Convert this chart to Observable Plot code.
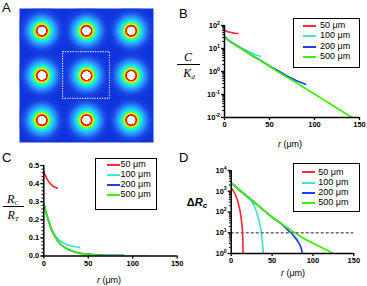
<!DOCTYPE html>
<html><head><meta charset="utf-8">
<script src="https://cdn.jsdelivr.net/npm/d3@7"></script>
<script src="https://cdn.jsdelivr.net/npm/@observablehq/plot@0.6"></script>
<style>
body{margin:0;background:#fff;}
#fig{position:relative;width:367px;height:286px;overflow:hidden;font-family:Arial,"Liberation Sans",sans-serif;}
#fig > svg{position:absolute;}
.t{position:absolute;line-height:1;white-space:nowrap;color:#000;}
.lg{position:absolute;border:1.3px solid #000;box-sizing:border-box;background:#fff;}
.row{position:absolute;font-size:9px;line-height:1;white-space:nowrap;}
.sw{position:absolute;height:2px;}
</style>
</head><body><div id="fig"></div>
<script>
// ---------- data ----------
const seriesNames = ["50 μm", "100 μm", "200 μm", "500 μm"];
const seriesColors = ["#ff2a3a", "#3fe3cf", "#1f3fe6", "#3cf000"];

// Panel A: 3x3 lattice of cells
const cellX = [0.5, 1.5, 2.5];
const cellY = [0.5, 1.5, 2.5];
const boxA = [{x1: 0.975, x2: 2.025, y1: 0.975, y2: 2.025}];

// Panel B: C/Kd vs r
const bR50 = [0, 3, 6, 9, 12, 15];
const bV50 = [62, 55, 51, 48, 46, 45];
const bR100 = [0, 5, 10, 15, 20, 25, 30, 35, 40];
const bV100 = [31.6, 22.4, 16.6, 12.6, 10, 7.9, 6.3, 5.2, 4.6];
const bR200 = [0, 5, 10, 15, 20, 30, 40, 50, 60, 70, 80, 90];
const bV200 = [31.6, 21.9, 16.2, 12.3, 9.3, 5.1, 3.0, 1.75, 1.05, 0.62, 0.4, 0.28];
const bR500 = [0, 5, 10, 15, 20, 30, 40, 50, 60, 70, 80, 90, 100, 110, 120, 130, 142];
const bV500 = [31.6, 21.9, 16.2, 12.3, 9.3, 5.1, 3.0, 1.7, 0.95, 0.55, 0.32, 0.18, 0.105, 0.06, 0.034, 0.019, 0.01];

// Panel C: Rc/Rt vs r
const cR50 = [0, 3, 6, 9, 12, 15];
const cV50 = [0.465, 0.432, 0.408, 0.392, 0.381, 0.375];
const cR100 = [0, 2, 4, 6, 8, 10, 13, 16, 20, 25, 30, 35, 40];
const cV100 = [0.29, 0.25, 0.215, 0.185, 0.157, 0.134, 0.11, 0.093, 0.078, 0.065, 0.057, 0.051, 0.048];
const cR200 = [0, 2, 4, 6, 8, 10, 13, 16, 20, 25, 30, 40, 50, 60, 70, 80, 90];
const cV200 = [0.29, 0.25, 0.215, 0.185, 0.155, 0.13, 0.105, 0.082, 0.06, 0.043, 0.03, 0.016, 0.01, 0.006, 0.004, 0.0035, 0.003];
const cR500 = [0, 2, 4, 6, 8, 10, 13, 16, 20, 25, 30, 40, 50, 60, 80, 100, 118];
const cV500 = [0.29, 0.25, 0.215, 0.185, 0.155, 0.13, 0.105, 0.082, 0.06, 0.043, 0.03, 0.016, 0.009, 0.005, 0.002, 0.001, 0.0005];

// Panel D: delta Rc vs r
const dR50 = [0, 2, 5, 8, 10, 11.5, 12.5, 13.4, 14, 14.3, 14.5];
const dV50 = [1450, 1120, 700, 320, 160, 80, 40, 18.6, 8, 3.2, 1];
const dR100 = [0, 10, 20, 25, 28, 31, 34, 36.5, 38, 39, 39.3];
const dV100 = [2500, 1150, 540, 316, 200, 100, 40, 12.6, 4, 1.6, 1];
const dR200 = [0, 10, 20, 30, 40, 50, 60, 65, 70, 73, 78, 82, 85, 86.5, 87];
const dV200 = [2500, 1150, 540, 257, 120, 56, 30, 20, 12.6, 10, 6, 3.6, 2.1, 1.3, 1];
const dR500 = [0, 10, 20, 30, 40, 50, 60, 70, 80, 90, 100, 110, 125];
const dV500 = [2500, 1150, 540, 257, 120, 56, 30, 16, 8.7, 5, 3.1, 2, 1];
const dThreshold = [10];

// Tick labels
const xTicks = [0, 50, 100, 150];
const bYTicks = [0.01, 0.1, 1, 10, 100];
const cYTicks = [0, 0.1, 0.2, 0.3, 0.4, 0.5];
const dYTicks = [1, 10, 100, 1000, 10000];

// ---------- helpers ----------
const fig = document.getElementById("fig");
const FONT = "Arial, 'Liberation Sans', sans-serif";
function rows(rs, vs, s) { return rs.map((r, i) => ({r, v: vs[i], s})); }
function logMinor(lo, hi) {
  const out = [];
  for (let e = Math.log10(lo); e < Math.log10(hi); e++)
    for (let k = 2; k <= 9; k++) out.push(k * Math.pow(10, e));
  return out;
}
function logFmt(d) { return "10^" + Math.round(Math.log10(d)); }
function fixSup(svg) {
  svg.querySelectorAll("text").forEach(t => {
    const m = /^10\^(-?\d+)$/.exec(t.textContent);
    if (m) {
      t.textContent = "10";
      const ts = document.createElementNS("http://www.w3.org/2000/svg", "tspan");
      ts.setAttribute("dy", "-3.2");
      ts.setAttribute("font-size", "5.2");
      ts.textContent = m[1];
      t.appendChild(ts);
    }
  });
}
function place(svg, left, top) {
  svg.style.left = left + "px"; svg.style.top = top + "px";
  fig.appendChild(svg);
}
function text(html, left, top, css) {
  const d = document.createElement("div");
  d.className = "t"; d.innerHTML = html;
  d.style.left = left + "px"; d.style.top = top + "px";
  Object.assign(d.style, css || {});
  fig.appendChild(d);
  return d;
}
function legend(left, top, w, h, rowY, swX, txtX) {
  const b = document.createElement("div");
  b.className = "lg";
  Object.assign(b.style, {left: left + "px", top: top + "px", width: w + "px", height: h + "px"});
  fig.appendChild(b);
  seriesNames.forEach((n, i) => {
    const s = document.createElement("div");
    s.className = "sw";
    Object.assign(s.style, {left: swX + "px", top: (rowY[i] - 1) + "px", width: "13px", background: seriesColors[i]});
    fig.appendChild(s);
    const t = document.createElement("div");
    t.className = "row"; t.textContent = n;
    Object.assign(t.style, {left: txtX + "px", top: (rowY[i] - 4.8) + "px"});
    fig.appendChild(t);
  });
}
const color = {domain: seriesNames, range: seriesColors};
const baseStyle = {fontFamily: FONT, fontSize: "7.5px", fontWeight: "bold", background: "transparent", overflow: "visible"};

// ---------- Panel A ----------
const cells = [];
cellY.forEach(y => cellX.forEach(x => cells.push({x, y})));
const A = Plot.plot({
  width: 180, height: 145, marginLeft: 19, marginRight: 27, marginTop: 8, marginBottom: 3,
  style: baseStyle,
  x: {domain: [0, 3], axis: null},
  y: {domain: [0, 3], axis: null},
  marks: [
    Plot.frame({fill: "#1034dc", stroke: null}),
    Plot.dot(cells, {x: "x", y: "y", r: 26, fill: "url(#glowA)", stroke: null, clip: true}),
    Plot.rect(boxA, {x1: "x1", x2: "x2", y1: "y1", y2: "y2", fill: "none", stroke: "#fff", strokeWidth: 1.2, strokeDasharray: "1.2,1.3", strokeOpacity: 0.9})
  ]
});
const ns = "http://www.w3.org/2000/svg";
const defs = document.createElementNS(ns, "defs");
const grad = document.createElementNS(ns, "radialGradient");
grad.setAttribute("id", "glowA");
const stops = [
  [0, "#ffffff", 1], [0.16, "#ffffff", 1], [0.172, "#e0101c", 1], [0.215, "#ee1c10", 1],
  [0.235, "#ffb000", 1], [0.255, "#e8f400", 1], [0.30, "#6cff40", 1], [0.37, "#10f0e0", 1],
  [0.45, "#20c4ff", 1], [0.57, "#2a84fa", 1], [0.76, "#1a4ee8", 0.55], [1, "#1034dc", 0]
];
stops.forEach(([o, c, a]) => {
  const s = document.createElementNS(ns, "stop");
  s.setAttribute("offset", o); s.setAttribute("stop-color", c); s.setAttribute("stop-opacity", a);
  grad.appendChild(s);
});
defs.appendChild(grad);
A.insertBefore(defs, A.firstChild);
place(A, 0, 0);

// ---------- Panel B ----------
const bData = [...rows(bR50, bV50, seriesNames[0]), ...rows(bR100, bV100, seriesNames[1]),
               ...rows(bR200, bV200, seriesNames[2]), ...rows(bR500, bV500, seriesNames[3])];
const B = Plot.plot({
  width: 187, height: 145, marginLeft: 44, marginRight: 8, marginTop: 25, marginBottom: 28,
  style: baseStyle, color,
  x: {domain: [0, 150]},
  y: {type: "log", domain: [0.01, 100]},
  marks: [
    Plot.axisX({ticks: xTicks, tickSize: 3, tickPadding: 1.5, label: null, strokeWidth: 1.3}),
    Plot.axisY({ticks: bYTicks, tickSize: 3, tickPadding: 1.5, tickFormat: logFmt, label: null, strokeWidth: 1.3}),
    Plot.axisY({ticks: logMinor(0.01, 100), tickSize: 1.8, tickFormat: () => "", label: null}),
    Plot.line(bData, {x: "r", y: "v", z: "s", stroke: "s", strokeWidth: 1.7, curve: "monotone-x", clip: true}),
    Plot.ruleX([0], {strokeWidth: 1.5}),
    Plot.ruleY([0.01], {strokeWidth: 1.5})
  ]
});
fixSup(B);
place(B, 180, 0);

// ---------- Panel C ----------
const cData = [...rows(cR50, cV50, seriesNames[0]), ...rows(cR100, cV100, seriesNames[1]),
               ...rows(cR200, cV200, seriesNames[2]), ...rows(cR500, cV500, seriesNames[3])];
const C = Plot.plot({
  width: 180, height: 141, marginLeft: 43.3, marginRight: 3.3, marginTop: 20, marginBottom: 30.5,
  style: baseStyle, color,
  x: {domain: [0, 150]},
  y: {domain: [0, 0.5]},
  marks: [
    Plot.axisX({ticks: xTicks, tickSize: 3, tickPadding: 1.5, label: null, strokeWidth: 1.3}),
    Plot.axisY({ticks: cYTicks, tickSize: 3, tickPadding: 1.5, tickFormat: d3.format(".1f"), label: null, strokeWidth: 1.3}),
    Plot.axisY({ticks: d3.range(0, 0.501, 0.02), tickSize: 1.8, tickFormat: () => "", label: null}),
    Plot.line(cData, {x: "r", y: "v", z: "s", stroke: "s", strokeWidth: 1.7, curve: "monotone-x", clip: true}),
    Plot.ruleX([0], {strokeWidth: 1.5}),
    Plot.ruleY([0], {strokeWidth: 1.5})
  ]
});
place(C, 0, 145);

// ---------- Panel D ----------
const dData = [...rows(dR50, dV50, seriesNames[0]), ...rows(dR100, dV100, seriesNames[1]),
               ...rows(dR200, dV200, seriesNames[2]), ...rows(dR500, dV500, seriesNames[3])];
const D = Plot.plot({
  width: 187, height: 141, marginLeft: 50.7, marginRight: 13.7, marginTop: 25, marginBottom: 33,
  style: baseStyle, color,
  x: {domain: [0, 150]},
  y: {type: "log", domain: [1, 10000]},
  marks: [
    Plot.axisX({ticks: xTicks, tickSize: 3, tickPadding: 1.5, label: null, strokeWidth: 1.3}),
    Plot.axisY({ticks: dYTicks, tickSize: 3, tickPadding: 1.5, tickFormat: logFmt, label: null, strokeWidth: 1.3}),
    Plot.axisY({ticks: logMinor(1, 10000), tickSize: 1.8, tickFormat: () => "", label: null}),
    Plot.line(dData, {x: "r", y: "v", z: "s", stroke: "s", strokeWidth: 1.7, curve: "monotone-x", clip: true}),
    Plot.ruleY(dThreshold, {stroke: "#6e6e6e", strokeWidth: 1.3, strokeDasharray: "3,2"}),
    Plot.ruleX([0], {strokeWidth: 1.5}),
    Plot.ruleY([1], {strokeWidth: 1.5})
  ]
});
fixSup(D);
place(D, 180, 145);

// ---------- text ----------
const L = {fontSize: "13px"};
text("A", 2, 1.3, L);
text("B", 179, 7.3, L);
text("C", 2, 150.7, L);
text("D", 179, 150.7, L);

const axT = {fontSize: "9px", transform: "translateX(-50%)"};
text("<i>r</i> (μm)", 290, 140, axT);
text("<i>r</i> (μm)", 109, 276, axT);
text("<i>r</i> (μm)", 293, 269, axT);

// fraction labels
const serif = {fontFamily: "'Liberation Serif', 'DejaVu Serif', serif", fontStyle: "italic", fontSize: "12px", transform: "translateX(-50%)"};
text("C", 188, 51, serif);
text("", 177, 63.5, {width: "23px", height: "0", borderTop: "1px solid #000"});
text("K<sub style='font-size:7px;vertical-align:-2px'>d</sub>", 189, 67, serif);

text("R<sub style='font-size:7px;vertical-align:-2px'>C</sub>", 13, 193, serif);
text("", 3, 206, {width: "21px", height: "0", borderTop: "1px solid #000"});
text("R<sub style='font-size:7px;vertical-align:-2px'>T</sub>", 13, 209, serif);

text("Δ<i>R</i><sub style='font-size:8px;vertical-align:-2px'><i>c</i></sub>", 197, 197, {fontSize: "11px", fontWeight: "bold", transform: "translateX(-50%)"});

// legends
legend(293, 18, 67, 50, [25.5, 36, 46.5, 57], 303, 320);
legend(95, 158, 62, 52, [165, 175, 185, 195], 106.5, 120.5);
legend(293, 163, 67, 49, [172.3, 182.5, 192.7, 202.7], 301.5, 318.3);
</script></body></html>
